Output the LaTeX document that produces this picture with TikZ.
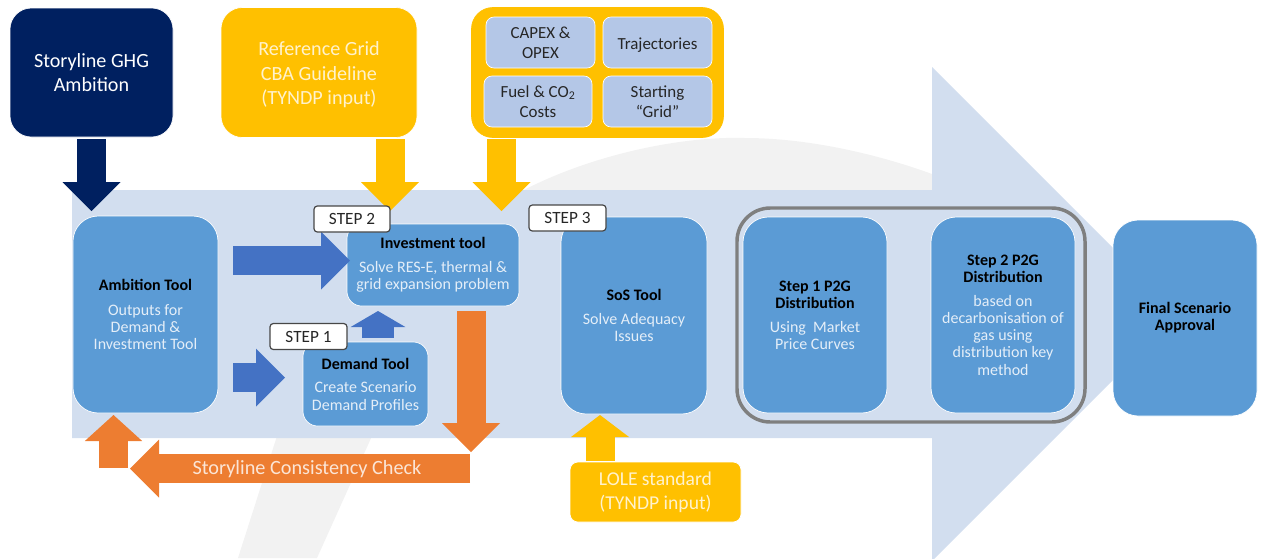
\documentclass[tikz,border=0pt]{standalone}
\usepackage{fontspec}
\setmainfont{Carlito}
\usetikzlibrary{arrows.meta}
\definecolor{navyc}{HTML}{002060}
\definecolor{yellowc}{HTML}{FFC000}
\definecolor{bluec}{HTML}{5B9BD5}
\definecolor{arrowblue}{HTML}{4472C4}
\definecolor{orangec}{HTML}{ED7D31}
\definecolor{palec}{HTML}{D2DEEF}
\definecolor{subc}{HTML}{B4C7E7}
\definecolor{swoosh}{HTML}{F2F2F2}
\definecolor{bodyc}{HTML}{E4EEF8}
\definecolor{yelltext}{HTML}{FFF2CC}
\definecolor{orangetext}{HTML}{FBE5D6}
\definecolor{inkc}{HTML}{262626}
\definecolor{framec}{HTML}{7F7F7F}
\tikzset{
  bx/.style n args={2}{rectangle,draw=white,line width=0.5pt,inner sep=0pt,align=center,
     minimum width=#1*0.75pt,minimum height=#2*0.75pt},
  tool/.style={fill=bluec,rounded corners=19pt,text=bodyc,font=\fontsize{12}{12.9}\selectfont},
  smalltool/.style={fill=bluec,rounded corners=11pt,text=bodyc,font=\fontsize{12}{12.9}\selectfont},
  bigtext/.style={font=\fontsize{15.1}{18.3}\selectfont},
  feeder/.style={rounded corners=16pt},
  subbox/.style={fill=subc,rounded corners=6pt,text=inkc,font=\fontsize{12.7}{15}\selectfont},
  stepbox/.style={rectangle,draw=inkc!85,line width=0.9pt,fill=white,rounded corners=2.5pt,inner sep=0pt,
     minimum width=#1*0.75pt,minimum height=19.5pt,text=inkc,font=\fontsize{12.9}{14}\selectfont},
  barrow/.style={line width=21.75pt,color=#1,-{Triangle[length=21.75pt,width=43.5pt,line width=0pt]}},
}
\newcommand{\ttl}[1]{{\color{black}\bfseries #1}}
\begin{document}
\begin{tikzpicture}[x=0.75pt,y=-0.75pt]
\useasboundingbox (0,0) rectangle (1262,558);
% swoosh behind everything
\fill[swoosh] (520,192) .. controls (590,155) and (680,136) .. (745,138)
   .. controls (810,138) and (880,155) .. (932,174) -- (932,192) -- cycle;
\fill[swoosh] (277,436) -- (372,436) -- (317,558) -- (238,558) -- cycle;
% big background arrow
\fill[palec] (72,190) -- (932,190) -- (932,67) -- (1179,314) -- (932,561) -- (932,438) -- (72,438) -- cycle;

% sources
\node[bx={163}{129},feeder,fill=navyc,text=white,bigtext] (story) at (91.5,72.5) {Storyline GHG\\Ambition};
\node[bx={196}{130},feeder,fill=yellowc,text=yelltext,bigtext] (refgrid) at (319,72.5) {\rule{0pt}{14pt}Reference Grid\\CBA Guideline\\(TYNDP input)};
\node[bx={252}{130},feeder,fill=yellowc,draw=yellowc] (costs) at (597.5,72.5) {};
\node[bx={109}{51},subbox] (capex) at (540.5,42.5) {CAPEX \&\\OPEX};
\node[bx={109}{51},subbox] (traj) at (657.5,42.5) {\rule{0pt}{12pt}Trajectories};
\node[bx={108}{51},subbox] (fuel) at (538,101.5) {Fuel \& CO\textsubscript{2}\\Costs};
\node[bx={109}{51},subbox] (start) at (657.5,101.5) {Starting\\“Grid”};

% tools
\node[bx={145}{197},tool] (ambition) at (145.5,314.5) {\ttl{Ambition Tool}\\[6pt]Outputs for\\Demand \&\\Investment Tool};
\node[bx={172}{82},smalltool] (invest) at (433,265) {\ttl{Investment tool}\\[5pt]Solve RES-E, thermal \&\\grid expansion problem};
\node[bx={125}{84},smalltool] (demand) at (365.5,384) {\ttl{Demand Tool}\\[5pt]Create Scenario\\Demand Profiles};
\node[bx={146}{197},tool] (sos) at (634,315.5) {\ttl{SoS Tool}\\[5pt]Solve Adequacy\\Issues};
\node[bx={144}{196},tool] (p2ga) at (815,315) {\ttl{Step 1 P2G}\\\ttl{Distribution}\\[5pt]Using\ \ Market\\Price Curves};
\node[bx={144}{196},tool] (p2gb) at (1003,315) {\ttl{Step 2 P2G}\\\ttl{Distribution}\\[5pt]based on\\decarbonisation of\\gas using\\distribution key\\method};
\node[bx={144}{196},tool] (final) at (1185,318) {\ttl{Final Scenario}\\\ttl{Approval}};
\node[rectangle,draw=framec,line width=2.6pt,rounded corners=25pt,inner sep=0pt,minimum width=261pt,minimum height=160.5pt] (frame) at (911,315) {};
\node[bx={171}{60},fill=yellowc,rounded corners=6pt,text=yelltext,font=\fontsize{14.7}{18.3}\selectfont] (lole) at (655.5,492) {LOLE standard\\(TYNDP input)};

% connector end points
\coordinate (s1) at (91.5,139);
\coordinate (e1) at (91.5,211);
\coordinate (s2) at (390,139);
\coordinate (e2) at (390,211);
\coordinate (s3) at (501.5,139);
\coordinate (e3) at (501.5,211);
\coordinate (s4) at (233,260.5);
\coordinate (e4) at (350,260.5);
\coordinate (s5) at (233,377.5);
\coordinate (e5) at (285,377.5);
\coordinate (s6) at (378,338);
\coordinate (e6) at (378,311);
\coordinate (s7) at (471,311);
\coordinate (e7) at (471,452);
\coordinate (s8) at (470,468.5);
\coordinate (e8) at (130,468.5);
\coordinate (s9) at (113.5,468);
\coordinate (e9) at (113.5,415);
\coordinate (s10) at (600,461);
\coordinate (e10) at (600,415);

\draw[barrow=navyc] (s1) -- (e1);
\draw[barrow=yellowc] (s2) -- (e2);
\draw[barrow=yellowc] (s3) -- (e3);
\draw[barrow=arrowblue] (s4) -- (e4);
\draw[barrow=arrowblue] (s5) -- (e5);
\draw[line width=24pt,color=arrowblue,-{Triangle[length=12pt,width=41pt,line width=0pt]}] (s6) -- (e6);
\draw[barrow=orangec] (s7) -- (e7);
\draw[barrow=orangec] (s8) -- (e8);
\draw[line width=21.75pt,color=orangec,-{Triangle[length=19.5pt,width=43pt,line width=0pt]}] (s9) -- (e9);
\draw[line width=21.75pt,color=yellowc,-{Triangle[length=16.5pt,width=43.5pt,line width=0pt]}] (s10) -- (e10);

\node[text=orangetext,inner sep=0pt,font=\fontsize{15.2}{16}\selectfont] (check) at (307,469.5) {Storyline Consistency Check};

% step tags
\node[stepbox=76] (st2) at (352,219) {STEP 2};
\node[stepbox=77] (st3) at (567.5,218) {STEP 3};
\node[stepbox=77] (st1) at (308.5,336.5) {STEP 1};
\end{tikzpicture}
\end{document}
